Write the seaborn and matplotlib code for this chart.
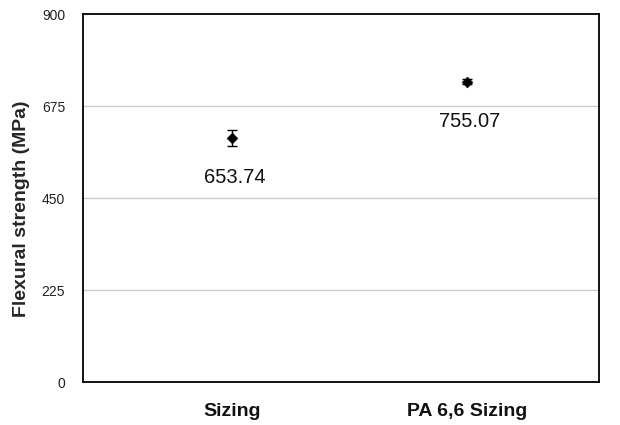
import matplotlib
matplotlib.use("Agg")
import matplotlib.pyplot as plt
import seaborn as sns
import pandas as pd

# Data
categories = ["Sizing", "PA 6,6 Sizing"]
strength = [597, 734]
strength_err = [19, 6]
value_labels = ["653.74", "755.07"]
y_ticks = [0, 225, 450, 675, 900]

sns.set_theme(style="white")
plt.rcParams["font.family"] = ["Liberation Sans", "DejaVu Sans"]

df = pd.DataFrame({"x": range(len(categories)), "strength": strength})

fig = plt.figure(figsize=(6.2, 4.25), dpi=100)
ax = fig.add_axes([0.134, 0.101, 0.832, 0.866])

# Gridlines below the markers
for yt in y_ticks[1:-1]:
    ax.axhline(yt, color="#cccccc", lw=1, zorder=0)

ax.errorbar(df["x"], df["strength"], yerr=strength_err, fmt="none",
            ecolor="black", elinewidth=1, capsize=3.5, capthick=1, zorder=2)
sns.scatterplot(data=df, x="x", y="strength", marker="D", s=30,
                color="black", edgecolor="black", ax=ax, zorder=3, legend=False)

for xi, yi, lab in zip(df["x"], df["strength"], value_labels):
    ax.annotate(lab, (xi, yi), xytext=(3, -40), textcoords="offset pixels",
                ha="center", va="center", fontsize=14.5, color="#111111")

ax.set_xlim(-0.634, 1.562)
ax.set_ylim(0, 900)
ax.set_yticks(y_ticks)
ax.set_yticklabels([str(t) for t in y_ticks], fontsize=10, color="#222222")
ax.set_xticks(df["x"])
ax.set_xticklabels(categories, fontsize=14, fontweight="bold", color="#111111")
ax.tick_params(axis="x", length=0, pad=15)
ax.tick_params(axis="y", length=0, pad=13)

ax.set_xlabel("")
ax.set_ylabel("Flexural strength (MPa)", fontsize=14, fontweight="bold")
ax.yaxis.set_label_coords(-0.102, 0.47)

for side in ["left", "right", "top", "bottom"]:
    ax.spines[side].set_visible(True)
    ax.spines[side].set_color("black")
    ax.spines[side].set_linewidth(1.3)

fig.savefig("out.png", dpi=100)
